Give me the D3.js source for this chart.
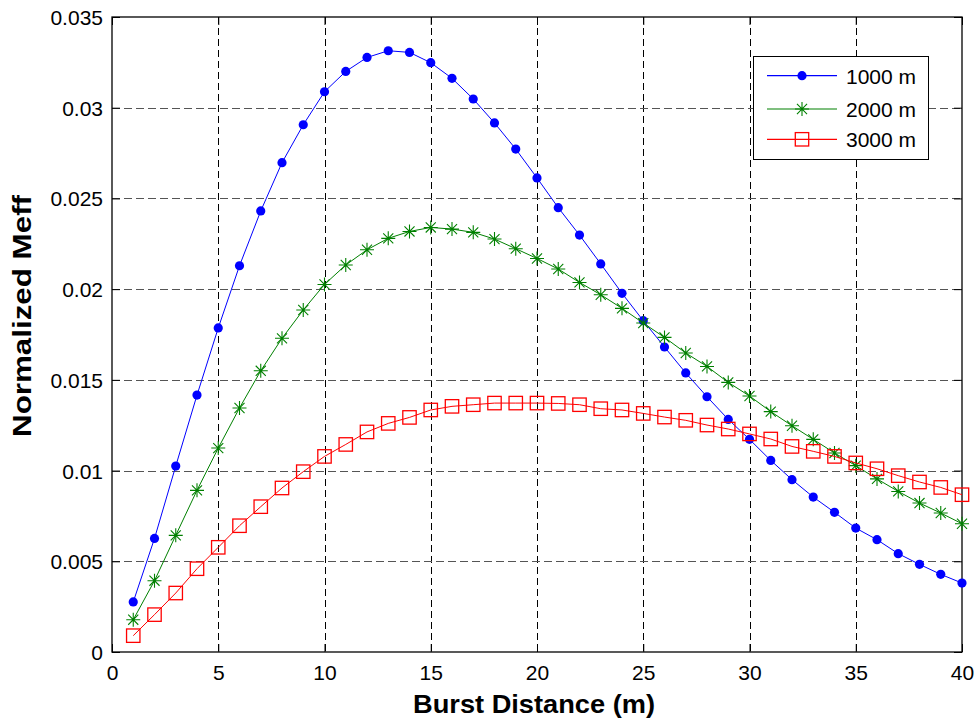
<!DOCTYPE html>
<html>
<head>
<meta charset="utf-8">
<script src="https://cdn.jsdelivr.net/npm/d3@7"></script>
<style>
  html, body { margin: 0; padding: 0; background: #fff; }
  svg { display: block; font-family: "Liberation Sans", Arial, sans-serif; }
</style>
</head>
<body>
<svg id="chart" width="980" height="722"></svg>
<script>
const burstDistance = [1,2,3,4,5,6,7,8,9,10,11,12,13,14,15,16,17,18,19,20,21,22,23,24,25,26,27,28,29,30,31,32,33,34,35,36,37,38,39,40];
const meff1000 = [0.00276,0.00626,0.01025,0.01416,0.01786,0.02129,0.02431,0.02697,0.02906,0.03088,0.0320,0.03277,0.03314,0.03305,0.03248,0.03162,0.03048,0.02916,0.02772,0.02613,0.02449,0.02298,0.02139,0.01977,0.01826,0.01681,0.01538,0.01407,0.01282,0.01172,0.01056,0.0095,0.00854,0.0077,0.00683,0.00619,0.00542,0.00483,0.00428,0.0038];
const meff2000 = [0.00178,0.00393,0.00643,0.00891,0.01124,0.01345,0.0155,0.01729,0.01885,0.02026,0.02133,0.02217,0.0228,0.02318,0.0234,0.02331,0.02313,0.02276,0.02223,0.02169,0.02111,0.02037,0.01969,0.01894,0.01813,0.01734,0.01648,0.01574,0.01486,0.01411,0.01325,0.01247,0.01172,0.01097,0.01027,0.00954,0.00885,0.00821,0.00766,0.00707];
const meff3000 = [0.0009,0.00206,0.00325,0.00459,0.00577,0.00696,0.00801,0.00904,0.00994,0.01078,0.01144,0.01213,0.0126,0.01293,0.01334,0.01354,0.01363,0.01372,0.01372,0.01372,0.0137,0.01363,0.01341,0.01334,0.01315,0.01295,0.01277,0.01251,0.01229,0.01202,0.01174,0.01133,0.01106,0.01078,0.01042,0.0101,0.00972,0.00937,0.00907,0.00867];
const seriesNames = ["1000 m", "2000 m", "3000 m"];
const xTicks = [0,5,10,15,20,25,30,35,40];
const yTicks = [0,0.005,0.01,0.015,0.02,0.025,0.03,0.035];
const yTickLabels = ["0","0.005","0.01","0.015","0.02","0.025","0.03","0.035"];

const svg = d3.select("#chart");
const L = 112, R = 962, T = 17, B = 652;
const x = d3.scaleLinear().domain([0, 40]).range([L, R]);
const y = d3.scaleLinear().domain([0, 0.035]).range([B, T]);

// grid
const grid = svg.append("g");
grid.selectAll("line.vg").data(xTicks.filter(d => d > 0 && d < 40)).enter().append("line")
  .attr("x1", d => Math.round(x(d)) + 0.5).attr("x2", d => Math.round(x(d)) + 0.5)
  .attr("y1", T).attr("y2", B)
  .attr("stroke", "#000").attr("stroke-width", 1).attr("stroke-dasharray", "7,4");
grid.selectAll("line.hg").data(yTicks.filter(d => d > 0 && d < 0.035)).enter().append("line")
  .attr("y1", d => Math.round(y(d)) + 0.5).attr("y2", d => Math.round(y(d)) + 0.5)
  .attr("x1", L).attr("x2", R)
  .attr("stroke", "#555").attr("stroke-width", 1.2).attr("stroke-dasharray", "8,4");

// axes (inward ticks on all sides)
const fontSize = 21;
const ax = svg.append("g").attr("transform", `translate(0,${B})`)
  .call(d3.axisBottom(x).tickValues(xTicks).tickSize(-8).tickPadding(13).tickSizeOuter(0));
const ay = svg.append("g").attr("transform", `translate(${L},0)`)
  .call(d3.axisLeft(y).tickValues(yTicks).tickFormat((d, i) => yTickLabels[i]).tickSize(-8).tickPadding(9).tickSizeOuter(0));
const axT = svg.append("g").attr("transform", `translate(0,${T})`)
  .call(d3.axisTop(x).tickValues(xTicks).tickSize(-8).tickFormat("").tickSizeOuter(0));
const ayR = svg.append("g").attr("transform", `translate(${R},0)`)
  .call(d3.axisRight(y).tickValues(yTicks).tickSize(-8).tickFormat("").tickSizeOuter(0));
[ax, ay, axT, ayR].forEach(g => {
  g.select(".domain").remove();
  g.selectAll("line").attr("stroke", "#000");
  g.selectAll("text").attr("fill", "#000").attr("font-size", fontSize)
    .attr("font-family", "Liberation Sans, Arial, sans-serif");
});
ay.selectAll("text").attr("dy", "0.36em");

svg.append("rect").attr("x", L).attr("y", T).attr("width", R - L).attr("height", B - T)
  .attr("fill", "none").attr("stroke", "#000").attr("stroke-width", 1.3);

// axis labels
svg.append("text").attr("x", 534).attr("y", 713).attr("text-anchor", "middle")
  .attr("font-size", 25).attr("font-weight", "bold")
  .attr("textLength", 242).attr("lengthAdjust", "spacingAndGlyphs")
  .text("Burst Distance (m)");
svg.append("text").attr("transform", "translate(31,316) rotate(-90)").attr("text-anchor", "middle")
  .attr("font-size", 25).attr("font-weight", "bold")
  .attr("textLength", 242).attr("lengthAdjust", "spacingAndGlyphs")
  .text("Normalized Meff");

// series
const series = [
  { name: seriesNames[0], values: meff1000, color: "#0000ff", marker: "dot" },
  { name: seriesNames[1], values: meff2000, color: "#008000", marker: "star" },
  { name: seriesNames[2], values: meff3000, color: "#ff0000", marker: "square" }
];
const line = d3.line().x(d => x(d[0])).y(d => y(d[1]));

function drawMarker(g, type, color) {
  if (type === "dot") {
    g.append("circle").attr("r", 4.6).attr("fill", color);
  } else if (type === "star") {
    const s = 7;
    const d = `M${-s},0L${s},0M0,${-s}L0,${s}M${-s*0.72},${-s*0.72}L${s*0.72},${s*0.72}M${-s*0.72},${s*0.72}L${s*0.72},${-s*0.72}`;
    g.append("path").attr("d", d).attr("stroke", color).attr("stroke-width", 1.1).attr("fill", "none");
  } else {
    const s = 6.7;
    g.append("rect").attr("x", -s).attr("y", -s).attr("width", 2*s).attr("height", 2*s)
      .attr("fill", "none").attr("stroke", color).attr("stroke-width", 1.3);
  }
}

series.forEach(s => {
  const pts = burstDistance.map((d, i) => [d, s.values[i]]);
  svg.append("path").attr("d", line(pts)).attr("fill", "none").attr("stroke", s.color).attr("stroke-width", 1);
  pts.forEach(p => {
    const g = svg.append("g").attr("transform", `translate(${x(p[0])},${y(p[1])})`);
    drawMarker(g, s.marker, s.color);
  });
});

// legend
const lg = svg.append("g");
lg.append("rect").attr("x", 753.5).attr("y", 56.5).attr("width", 175).attr("height", 103)
  .attr("fill", "#fff").attr("stroke", "#000").attr("stroke-width", 1);
const legendY = [75.7, 109, 139.3];
series.forEach((s, i) => {
  lg.append("line").attr("x1", 767).attr("x2", 837).attr("y1", legendY[i]).attr("y2", legendY[i])
    .attr("stroke", s.color).attr("stroke-width", 1.2);
  const g = lg.append("g").attr("transform", `translate(802,${legendY[i]})`);
  drawMarker(g, s.marker, s.color);
  lg.append("text").attr("x", 846).attr("y", legendY[i] + 8).attr("font-size", fontSize).text(s.name);
});
</script>
</body>
</html>
